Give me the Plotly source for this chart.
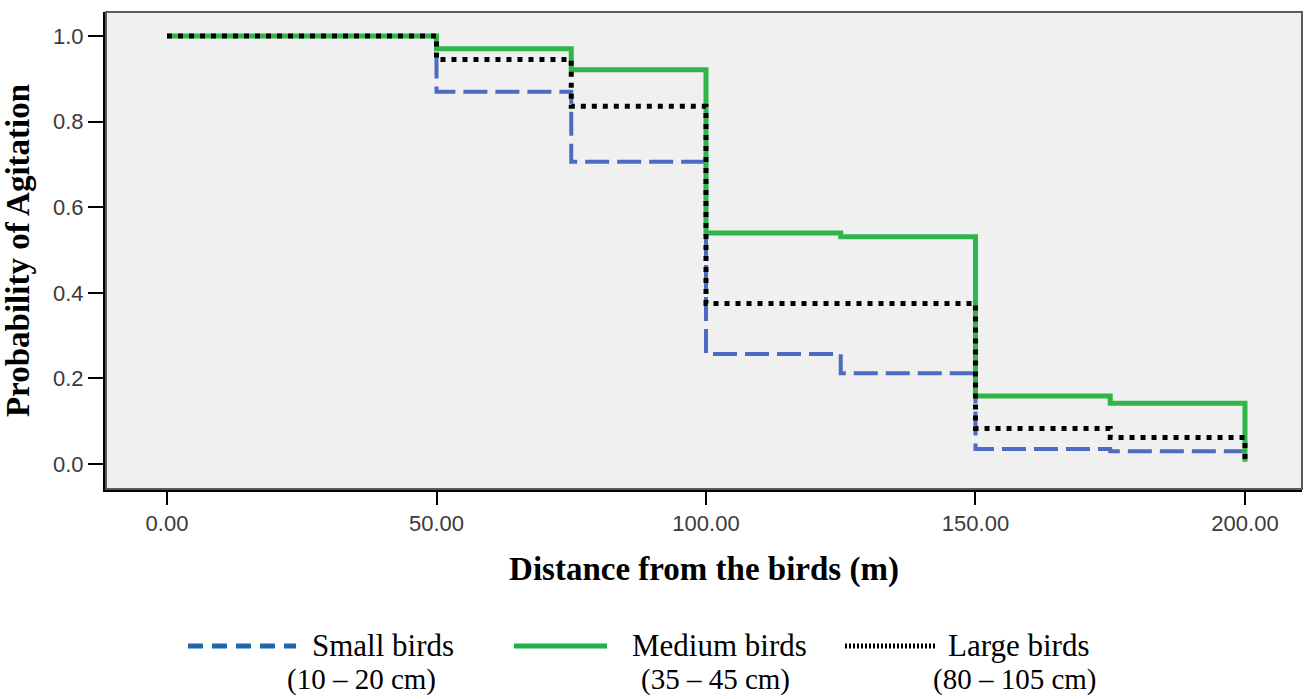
import plotly.graph_objects as go

# ---- data ----
distance = [0, 50, 75, 100, 125, 150, 175, 200]
small_birds = [1.0, 0.870, 0.706, 0.257, 0.212, 0.035, 0.030, 0.005]
medium_birds = [1.0, 0.970, 0.921, 0.540, 0.531, 0.159, 0.142, 0.005]
large_birds = [1.0, 0.945, 0.836, 0.375, 0.375, 0.083, 0.062, 0.005]

x_ticks = [0, 50, 100, 150, 200]
y_ticks = [0.0, 0.2, 0.4, 0.6, 0.8, 1.0]

legend_names = ["Small birds", "Medium birds", "Large birds"]
legend_sizes = ["(10 – 20 cm)", "(35 – 45 cm)", "(80 – 105 cm)"]

W, H = 1306, 699
L, R, T, B = 106, 1302, 12, 489

fig = go.Figure()
fig.add_trace(go.Scatter(x=distance, y=small_birds, mode="lines", line_shape="hv",
                         line=dict(color="#4d6bc1", width=4, dash="24px,8px"),
                         name=legend_names[0], showlegend=False))
fig.add_trace(go.Scatter(x=distance, y=medium_birds, mode="lines", line_shape="hv",
                         line=dict(color="#30b54b", width=5),
                         name=legend_names[1], showlegend=False))
fig.add_trace(go.Scatter(x=distance, y=large_birds, mode="lines", line_shape="hv",
                         line=dict(color="#000000", width=5, dash="5px,6px"),
                         name=legend_names[2], showlegend=False))

def px_x(p):
    return (p - L) / (R - L)

def px_y(p):
    return (B - p) / (B - T)

shapes = [
    dict(type="rect", xref="paper", yref="paper", x0=0, x1=1, y0=0, y1=1,
         line=dict(color="#5a5a5a", width=2), layer="above"),
]
# legend symbols
legend_syms = [
    (188, 296, dict(color="#2067aa", width=5, dash="15px,9px")),
    (514, 607, dict(color="#1fae4b", width=5)),
    (845, 935, dict(color="#000000", width=5, dash="2px,2px")),
]
sym_y = 646
for x0, x1, ln in legend_syms:
    shapes.append(dict(type="line", xref="paper", yref="paper",
                       x0=px_x(x0), x1=px_x(x1), y0=px_y(sym_y), y1=px_y(sym_y),
                       line=ln))

annotations = []
name_x = [310, 630, 946]
size_x = [285, 639, 931]
for i in range(3):
    annotations.append(dict(xref="paper", yref="paper", x=px_x(name_x[i]), y=px_y(645),
                            text=legend_names[i], showarrow=False, xanchor="left", yanchor="middle",
                            font=dict(family="Liberation Serif", size=31, color="#000000")))
    annotations.append(dict(xref="paper", yref="paper", x=px_x(size_x[i]), y=px_y(679),
                            text=legend_sizes[i], showarrow=False, xanchor="left", yanchor="middle",
                            font=dict(family="Liberation Serif", size=29, color="#000000")))

fig.update_layout(
    width=W, height=H,
    margin=dict(l=L, r=W - R, t=T, b=H - B, autoexpand=False),
    paper_bgcolor="white",
    plot_bgcolor="#f0f0f0",
    showlegend=False,
    shapes=shapes,
    annotations=annotations,
    xaxis=dict(
        range=[-11.32, 210.58], tickvals=x_ticks, tickformat=".2f",
        ticks="outside", ticklen=13, tickwidth=2, tickcolor="#000000",
        showgrid=False, zeroline=False, showline=True, linecolor="#000000", linewidth=3,
        tickfont=dict(family="Liberation Sans", size=22, color="#3a3a3a"),
        title=dict(text="<b>Distance from the birds (m)</b>", standoff=22,
                   font=dict(family="Liberation Serif", size=33, color="#000000")),
        automargin=False,
    ),
    yaxis=dict(
        range=[-0.0584, 1.0561], tickvals=y_ticks, tickformat=".1f",
        ticks="outside", ticklen=15, tickwidth=2, tickcolor="#000000",
        showgrid=False, zeroline=False, showline=True, linecolor="#000000", linewidth=3,
        tickfont=dict(family="Liberation Sans", size=22, color="#3a3a3a"),
        title=dict(text="<b>Probability of Agitation</b>", standoff=18,
                   font=dict(family="Liberation Serif", size=33, color="#000000")),
        automargin=False,
    ),
)

fig.write_html("out.html")
